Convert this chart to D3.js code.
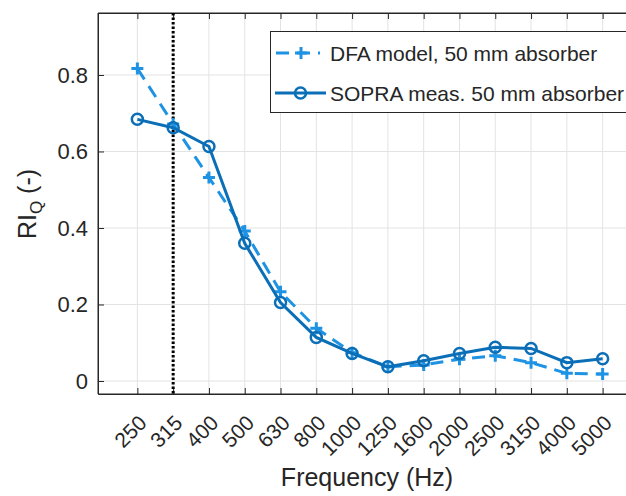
<!DOCTYPE html>
<html><head><meta charset="utf-8">
<script src="https://cdn.jsdelivr.net/npm/d3@7"></script>
<style>body{margin:0;background:#fff}svg{display:block}text{font-family:"Liberation Sans",Arial,sans-serif;fill:#262626}</style>
</head><body>
<svg id="c" width="626" height="496"></svg>
<script>
const categories = ["250","315","400","500","630","800","1000","1250","1600","2000","2500","3150","4000","5000"];
const dfaModel = [0.817,0.672,0.532,0.392,0.233,0.138,0.074,0.037,0.042,0.057,0.066,0.048,0.020,0.018];
const sopraMeas = [0.684,0.662,0.613,0.360,0.205,0.114,0.072,0.037,0.053,0.072,0.088,0.085,0.048,0.058];
const yTicks = [0,0.2,0.4,0.6,0.8];
const markerFreq = "315";
const seriesNames = ["DFA model, 50 mm absorber","SOPRA meas. 50 mm absorber"];

const svg = d3.select("#c");
const L=98, T=13, B=394, R=642;
const x = d3.scaleLinear().domain([-1.1, categories.length-1+1.1]).range([L,R]);
const y = d3.scaleLinear().domain([-0.034,0.962]).range([B,T]);
const axisCol="#262626", gridCol="#e3e3e3";
const cDash="#1f93e3", cSolid="#0b6fb8";

const g = svg.append("g");
// grid
g.selectAll(".gx").data(categories).enter().append("line")
 .attr("x1",(d,i)=>x(i)).attr("x2",(d,i)=>x(i)).attr("y1",T).attr("y2",B)
 .attr("stroke",gridCol).attr("stroke-width",1);
g.selectAll(".gy").data(yTicks).enter().append("line")
 .attr("x1",L).attr("x2",R).attr("y1",d=>y(d)).attr("y2",d=>y(d))
 .attr("stroke",gridCol).attr("stroke-width",1);

// axes
const xb = d3.axisBottom(x).tickValues(d3.range(categories.length)).tickFormat(i=>categories[i]).tickSizeInner(-6).tickSizeOuter(0);
const xa = g.append("g").attr("transform",`translate(0,${B})`).call(xb);
xa.selectAll("text").attr("font-size",21).attr("text-anchor","end")
  .attr("y",0).attr("dy","0.35em")
  .attr("transform","translate(5,25) rotate(-45)");
const xt = d3.axisTop(x).tickValues(d3.range(categories.length)).tickFormat("").tickSizeInner(-6).tickSizeOuter(0);
g.append("g").attr("transform",`translate(0,${T})`).call(xt);
const yl = d3.axisLeft(y).tickValues(yTicks).tickFormat(d=>d===0?"0":d3.format(".1f")(d)).tickSizeInner(-6).tickSizeOuter(0).tickPadding(10);
const ya = g.append("g").attr("transform",`translate(${L},0)`).call(yl);
ya.selectAll("text").attr("font-size",22);
g.selectAll(".domain").attr("stroke",axisCol).attr("stroke-width",1);
g.selectAll(".tick line").attr("stroke",axisCol);
g.append("line").attr("x1",L).attr("x2",L).attr("y1",T).attr("y2",B).attr("stroke",axisCol);
g.append("line").attr("x1",L).attr("x2",R).attr("y1",B).attr("y2",B).attr("stroke",axisCol);
g.append("line").attr("x1",L).attr("x2",R).attr("y1",T).attr("y2",T).attr("stroke",axisCol);

// dotted vertical line
const mi = categories.indexOf(markerFreq);
g.append("line").attr("x1",x(mi)).attr("x2",x(mi)).attr("y1",T).attr("y2",B)
 .attr("stroke","#000").attr("stroke-width",3).attr("stroke-dasharray","2.5 2");

const line = d3.line().x((d,i)=>x(i)).y(d=>y(d));
g.append("path").datum(dfaModel).attr("d",line).attr("fill","none")
 .attr("stroke",cDash).attr("stroke-width",3).attr("stroke-dasharray","13 8");
const plus = (sel,cx,cy,s,col)=>{ sel.append("path").attr("d",`M${cx-s},${cy}H${cx+s}M${cx},${cy-s}V${cy+s}`).attr("stroke",col).attr("stroke-width",3).attr("fill","none"); };
dfaModel.forEach((v,i)=>plus(g,x(i),y(v),6,cDash));
g.append("path").datum(sopraMeas).attr("d",line).attr("fill","none")
 .attr("stroke",cSolid).attr("stroke-width",3);
g.selectAll(".mk").data(sopraMeas).enter().append("circle")
 .attr("cx",(d,i)=>x(i)).attr("cy",d=>y(d)).attr("r",5.5)
 .attr("fill","none").attr("stroke",cSolid).attr("stroke-width",2.5);

// legend
const lg = svg.append("g");
lg.append("rect").attr("x",270.5).attr("y",31.5).attr("width",380).attr("height",81)
 .attr("fill","#fff").attr("stroke",axisCol).attr("stroke-width",1);
lg.append("line").attr("x1",276).attr("x2",320).attr("y1",53).attr("y2",53)
 .attr("stroke",cDash).attr("stroke-width",3).attr("stroke-dasharray","13 8");
plus(lg,301,53,6,cDash);
lg.append("line").attr("x1",275).attr("x2",326).attr("y1",93).attr("y2",93)
 .attr("stroke",cSolid).attr("stroke-width",3);
lg.append("circle").attr("cx",300.5).attr("cy",93).attr("r",5.5).attr("fill","none").attr("stroke",cSolid).attr("stroke-width",2.5);
lg.append("text").attr("x",330).attr("y",53).attr("dy","0.36em").attr("font-size",21).text(seriesNames[0]);
lg.append("text").attr("x",330).attr("y",93).attr("dy","0.36em").attr("font-size",21).text(seriesNames[1]);

// axis labels
svg.append("text").attr("x",367).attr("y",486).attr("text-anchor","middle").attr("font-size",25).text("Frequency (Hz)");
const yt = svg.append("text").attr("transform","translate(36,204) rotate(-90)").attr("text-anchor","middle").attr("font-size",25);
yt.append("tspan").text("RI");
yt.append("tspan").attr("font-size",17).attr("dy",6).text("Q");
yt.append("tspan").attr("dy",-6).text(" (-)");
</script>
</body></html>
